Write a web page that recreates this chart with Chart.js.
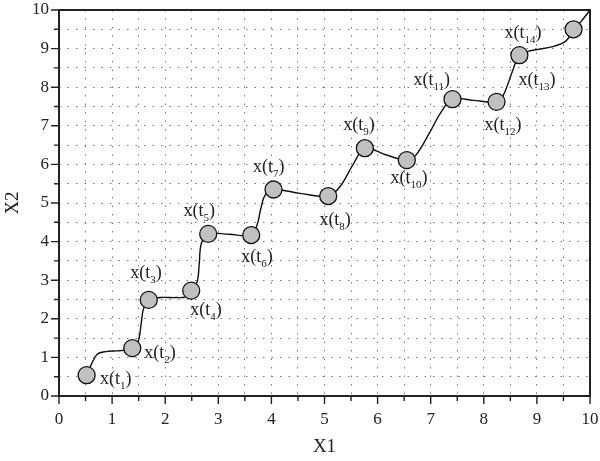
<!DOCTYPE html>
<html>
<head>
<meta charset="utf-8">
<script src="https://cdn.jsdelivr.net/npm/chart.js@4.4.1/dist/chart.umd.min.js"></script>
<style>
html, body { margin: 0; padding: 0; background: #fff; }
#wrap { width: 600px; height: 461px; }
</style>
</head>
<body>
<div id="wrap"><canvas id="traj"></canvas></div>
<script>
// sampled states x(t_k)
var pointX = [0.52, 1.38, 1.69, 2.49, 2.81, 3.62, 4.04, 5.07, 5.76, 6.55, 7.41, 8.24, 8.67, 9.69];
var pointY = [0.54, 1.24, 2.49, 2.73, 4.20, 4.17, 5.35, 5.18, 6.42, 6.11, 7.69, 7.62, 8.83, 9.50];

// trajectory
var pathX = [0.52, 0.62, 0.72, 0.88, 1.10, 1.25, 1.38, 1.49, 1.55, 1.59, 1.69, 1.90, 2.20, 2.38, 2.49,
             2.60, 2.64, 2.68, 2.81, 3.20, 3.62, 3.73, 3.80, 3.88, 4.04, 4.54, 5.07, 5.29, 5.54, 5.76,
             6.15, 6.55, 6.72, 6.99, 7.18, 7.41, 7.80, 8.24, 8.37, 8.55, 8.67, 8.90, 9.30, 9.55, 9.69,
             9.83, 10.0];
var pathY = [0.54, 0.85, 1.08, 1.15, 1.17, 1.19, 1.24, 1.41, 1.90, 2.25, 2.49, 2.55, 2.55, 2.57, 2.73,
             2.95, 3.40, 3.95, 4.20, 4.19, 4.17, 4.43, 4.85, 5.20, 5.35, 5.25, 5.18, 5.42, 6.00, 6.42,
             6.25, 6.11, 6.24, 6.85, 7.32, 7.69, 7.66, 7.62, 7.80, 8.45, 8.83, 8.95, 9.05, 9.20, 9.50,
             9.70, 10.0];

// point labels x(t_n) as placed in the figure
var labelSub = ["1", "2", "3", "4", "5", "6", "7", "8", "9", "10", "11", "12", "13", "14"];
var labelX = [1.07, 1.90, 1.64, 2.77, 2.64, 3.73, 3.95, 5.20, 5.65, 6.59, 7.02, 8.36, 9.00, 8.74];
var labelY = [0.44, 1.11, 3.19, 2.23, 4.79, 3.60, 5.93, 4.56, 7.02, 5.65, 8.19, 7.02, 8.19, 9.40];

var serif = '"Liberation Serif", "DejaVu Serif", serif';

function xy(xs, ys) {
    return xs.map(function (v, i) { return { x: v, y: ys[i] }; });
}

// frame + tick marks (long at integers, short at halves)
var frameTicks = {
    id: 'frameTicks',
    beforeDatasetsDraw: function (chart) {
        var ctx = chart.ctx, a = chart.chartArea;
        var xs = chart.scales.x, ys = chart.scales.y;
        ctx.save();
        ctx.strokeStyle = '#222';
        ctx.lineWidth = 2;
        ctx.strokeRect(a.left, a.top, a.right - a.left, a.bottom - a.top);
        ctx.lineWidth = 1.4;
        ctx.beginPath();
        xs.ticks.forEach(function (t) {
            var px = xs.getPixelForValue(t.value);
            var len = Number.isInteger(t.value) ? 8 : 5;
            ctx.moveTo(px, a.bottom);
            ctx.lineTo(px, a.bottom + len);
        });
        ys.ticks.forEach(function (t) {
            var py = ys.getPixelForValue(t.value);
            var len = Number.isInteger(t.value) ? 8 : 5;
            ctx.moveTo(a.left, py);
            ctx.lineTo(a.left - len, py);
        });
        ctx.stroke();
        ctx.restore();
    }
};

// x(t_n) labels with subscript
var pointLabels = {
    id: 'pointLabels',
    afterDatasetsDraw: function (chart) {
        var ctx = chart.ctx;
        var xs = chart.scales.x, ys = chart.scales.y;
        ctx.save();
        ctx.fillStyle = '#222';
        ctx.textBaseline = 'middle';
        ctx.textAlign = 'left';
        labelSub.forEach(function (s, i) {
            var cx = xs.getPixelForValue(labelX[i]);
            var cy = ys.getPixelForValue(labelY[i]);
            var big = '18px ' + serif, small = '11px ' + serif;
            ctx.font = big;
            var w1 = ctx.measureText('x(t').width;
            var w3 = ctx.measureText(')').width;
            ctx.font = small;
            var w2 = ctx.measureText(s).width;
            var x0 = cx - (w1 + w2 + w3) / 2;
            ctx.font = big;
            ctx.fillText('x(t', x0, cy);
            ctx.font = small;
            ctx.fillText(s, x0 + w1, cy + 7);
            ctx.font = big;
            ctx.fillText(')', x0 + w1 + w2, cy);
        });
        ctx.restore();
    }
};

var traj = document.getElementById("traj");
var trajChart = new Chart(traj, {
    type: 'scatter',
    data: {
        datasets: [{
            data: xy(pointX, pointY),
            pointRadius: 8.5,
            pointBackgroundColor: '#c0c0c0',
            pointBorderColor: '#111',
            pointBorderWidth: 1.3,
            showLine: false,
            order: 0
        }, {
            data: xy(pathX, pathY),
            showLine: true,
            pointRadius: 0,
            borderColor: '#111',
            borderWidth: 1.4,
            tension: 0.35,
            fill: false,
            order: 1
        }]
    },
    options: {
        responsive: true,
        maintainAspectRatio: false,
        animation: false,
        layout: { padding: { top: 10, right: 10, left: 0, bottom: 0 } },
        plugins: {
            legend: { display: false },
            tooltip: { enabled: false }
        },
        scales: {
            x: {
                type: 'linear',
                min: 0,
                max: 10,
                afterFit: function (s) {
                    s.height = 65;
                    s.paddingLeft = 0;
                    s.paddingRight = 0;
                },
                ticks: {
                    stepSize: 0.5,
                    autoSkip: false,
                    maxRotation: 0,
                    padding: 13,
                    color: '#222',
                    font: { family: serif, size: 17 },
                    callback: function (v) { return Number.isInteger(v) ? v : ''; }
                },
                grid: { color: '#777', lineWidth: 1, drawTicks: false },
                border: { display: false, dash: [1.5, 7] },
                title: {
                    display: true,
                    text: 'X1',
                    color: '#222',
                    font: { family: serif, size: 19 },
                    padding: { top: 0, bottom: 3 }
                }
            },
            y: {
                type: 'linear',
                min: 0,
                max: 10,
                afterFit: function (s) {
                    s.width = 59;
                    s.paddingTop = 0;
                    s.paddingBottom = 0;
                },
                ticks: {
                    stepSize: 0.5,
                    autoSkip: false,
                    padding: 10,
                    color: '#222',
                    font: { family: serif, size: 17 },
                    callback: function (v) { return Number.isInteger(v) ? v : ''; }
                },
                grid: { color: '#777', lineWidth: 1, drawTicks: false },
                border: { display: false, dash: [1.5, 7] },
                title: {
                    display: true,
                    text: 'X2',
                    color: '#222',
                    font: { family: serif, size: 19 },
                    padding: { top: 2, bottom: 0 }
                }
            }
        }
    },
    plugins: [frameTicks, pointLabels]
});
</script>
</body>
</html>
